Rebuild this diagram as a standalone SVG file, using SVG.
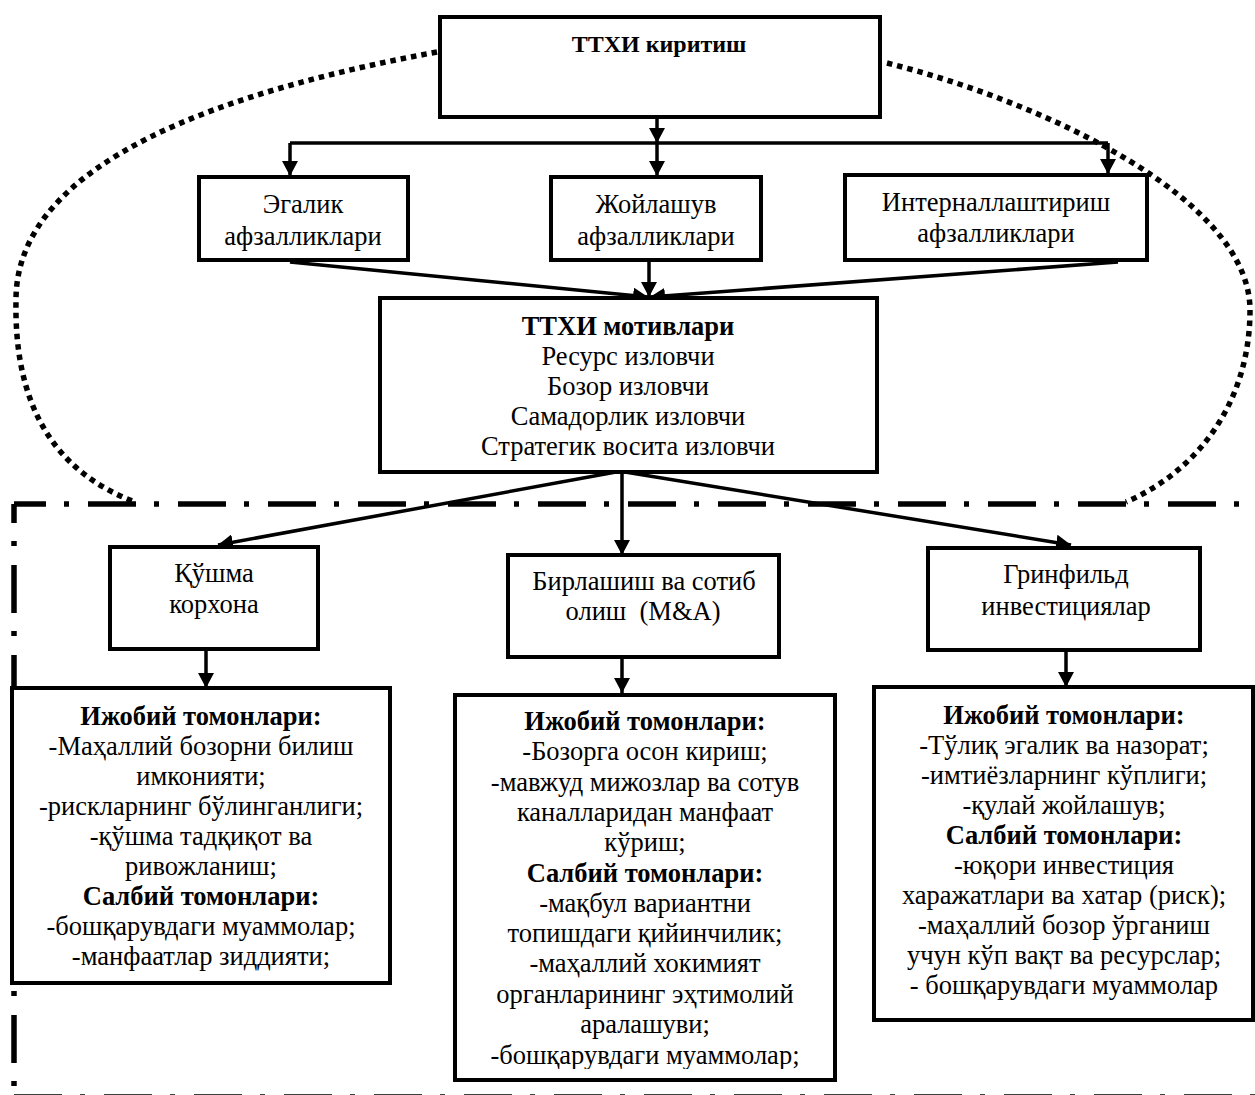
<svg xmlns="http://www.w3.org/2000/svg" width="1255" height="1095" viewBox="0 0 1255 1095">
<style>
.box{fill:#fff;stroke:#000;stroke-width:4}
.t{font-family:"Liberation Serif","Times New Roman",serif;font-size:26.5px;fill:#000;text-anchor:middle}
.b{font-weight:bold}
.h{font-size:24px}
.con{stroke:#000;stroke-width:3.5;fill:none}
.arr{marker-end:url(#ah)}
.dot{stroke:#000;stroke-width:5.5;fill:none;stroke-dasharray:5.5 5}
.dd{stroke:#000;stroke-width:5.5;fill:none;stroke-dasharray:48 18 5 19}
</style>
<defs>
<marker id="ah" viewBox="0 0 15 16" refX="15" refY="8" markerWidth="15" markerHeight="16" markerUnits="userSpaceOnUse" orient="auto">
<path d="M0,0 L15,8 L0,16 z" fill="#000"/>
</marker>
<clipPath id="clipM"><rect x="455" y="695" width="380" height="374"/></clipPath>
</defs>
<rect width="1255" height="1095" fill="#fff"/>

<g id="frame">
<path class="dd" d="M14,504 H1255" stroke-dashoffset="16"/>
<path class="dd" d="M14,504 V1097" stroke-dashoffset="29"/>
<path class="dd" d="M14,1097 H1255"/>
</g>

<g id="ellipse">
<path class="dot" d="M437,52 C230,90 16,160 16,300 C14,400 50,470 135,502"/>
<path class="dot" d="M887,63 C1047,103 1250,200 1250,310 C1250,400 1200,470 1126,502"/>
</g>

<g id="connectors">
<path class="con arr" d="M657,117 V143"/>
<path class="con" d="M290,143 H1108"/>
<path class="con arr" d="M290,143 V176"/>
<path class="con arr" d="M657,143 V176"/>
<path class="con arr" d="M1108,143 V174"/>
<path class="con arr" d="M290,262 L648,297"/>
<path class="con arr" d="M1118,262 L650,297"/>
<path class="con arr" d="M649,262 V297"/>
<path class="con arr" d="M616,472 L218,545"/>
<path class="con arr" d="M622,472 V555"/>
<path class="con arr" d="M625,472 L1071,545"/>
<path class="con arr" d="M206,649 V688"/>
<path class="con arr" d="M622,657 V693"/>
<path class="con arr" d="M1066,650 V687"/>
</g>

<g id="n-top">
<rect class="box" x="440" y="17" width="440" height="100"/>
<text class="t b h" x="659" y="52">ТТХИ киритиш</text>
</g>

<g id="n-egalik">
<rect class="box" x="199" y="177" width="209" height="83"/>
<text class="t" x="303" y="213">Эгалик</text>
<text class="t" x="303" y="245">афзалликлари</text>
</g>

<g id="n-joylashuv">
<rect class="box" x="551" y="177" width="210" height="83"/>
<text class="t" x="656" y="213">Жойлашув</text>
<text class="t" x="656" y="245">афзалликлари</text>
</g>

<g id="n-intern">
<rect class="box" x="845" y="175" width="302" height="85"/>
<text class="t" x="996" y="211">Интерналлаштириш</text>
<text class="t" x="996" y="242">афзалликлари</text>
</g>

<g id="n-motiv">
<rect class="box" x="380" y="298" width="497" height="174"/>
<text class="t b" x="628" y="335">ТТХИ мотивлари</text>
<text class="t" x="628" y="365">Ресурс изловчи</text>
<text class="t" x="628" y="395">Бозор изловчи</text>
<text class="t" x="628" y="425">Самадорлик изловчи</text>
<text class="t" x="628" y="455">Стратегик восита изловчи</text>
</g>

<g id="n-qushma">
<rect class="box" x="110" y="547" width="208" height="102"/>
<text class="t" x="214" y="582">Қўшма</text>
<text class="t" x="214" y="613">корхона</text>
</g>

<g id="n-ma">
<rect class="box" x="508" y="555" width="271" height="102"/>
<text class="t" x="644" y="590">Бирлашиш ва сотиб</text>
<text class="t" x="643" y="620" xml:space="preserve">олиш  (M&amp;A)</text>
</g>

<g id="n-green">
<rect class="box" x="928" y="548" width="272" height="102"/>
<text class="t" x="1066" y="583">Гринфильд</text>
<text class="t" x="1066" y="615">инвестициялар</text>
</g>

<g id="n-qushma-pc">
<rect class="box" x="12" y="688" width="378" height="295"/>
<text class="t b" x="201" y="725">Ижобий томонлари:</text>
<text class="t" x="201" y="755">-Маҳаллий бозорни билиш</text>
<text class="t" x="201" y="785">имконияти;</text>
<text class="t" x="201" y="815">-рискларнинг бўлинганлиги;</text>
<text class="t" x="201" y="845">-қўшма тадқиқот ва</text>
<text class="t" x="201" y="875">ривожланиш;</text>
<text class="t b" x="201" y="905">Салбий томонлари:</text>
<text class="t" x="201" y="935">-бошқарувдаги муаммолар;</text>
<text class="t" x="201" y="965">-манфаатлар зиддияти;</text>
</g>

<g id="n-ma-pc">
<rect class="box" x="455" y="695" width="380" height="385"/>
<g clip-path="url(#clipM)">
<text class="t b" x="645" y="730">Ижобий томонлари:</text>
<text class="t" x="645" y="760">-Бозорга осон кириш;</text>
<text class="t" x="645" y="791">-мавжуд мижозлар ва сотув</text>
<text class="t" x="645" y="821">каналларидан манфаат</text>
<text class="t" x="645" y="851">кўриш;</text>
<text class="t b" x="645" y="882">Салбий томонлари:</text>
<text class="t" x="645" y="912">-мақбул вариантни</text>
<text class="t" x="645" y="942">топишдаги қийинчилик;</text>
<text class="t" x="645" y="972">-маҳаллий хокимият</text>
<text class="t" x="645" y="1003">органларининг эҳтимолий</text>
<text class="t" x="645" y="1033">аралашуви;</text>
<text class="t" x="645" y="1064">-бошқарувдаги муаммолар;</text>
</g>
</g>

<g id="n-green-pc">
<rect class="box" x="874" y="687" width="379" height="333"/>
<text class="t b" x="1064" y="724">Ижобий томонлари:</text>
<text class="t" x="1064" y="754">-Тўлиқ эгалик ва назорат;</text>
<text class="t" x="1064" y="784">-имтиёзларнинг кўплиги;</text>
<text class="t" x="1064" y="814">-қулай жойлашув;</text>
<text class="t b" x="1064" y="844">Салбий томонлари:</text>
<text class="t" x="1064" y="874">-юқори инвестиция</text>
<text class="t" x="1064" y="904">харажатлари ва хатар (риск);</text>
<text class="t" x="1064" y="934">-маҳаллий бозор ўрганиш</text>
<text class="t" x="1064" y="964">учун кўп вақт ва ресурслар;</text>
<text class="t" x="1064" y="994">- бошқарувдаги муаммолар</text>
</g>
</svg>
